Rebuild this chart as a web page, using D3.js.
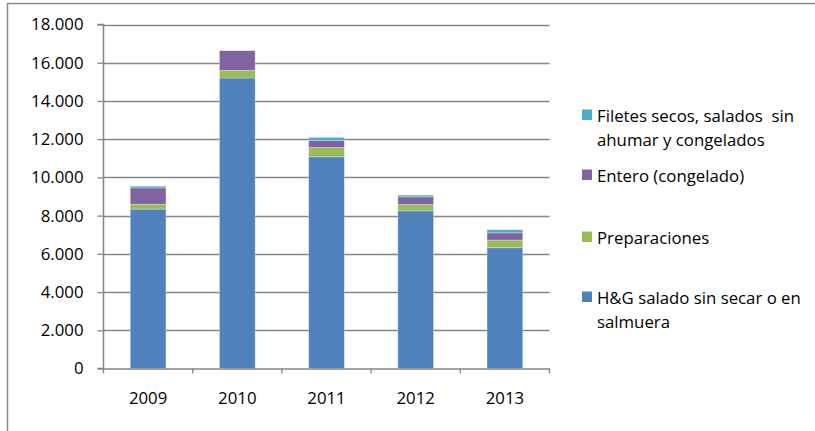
<!DOCTYPE html>
<html><head><meta charset="utf-8">
<script src="https://cdn.jsdelivr.net/npm/d3@7"></script>
<style>
body{margin:0;background:#fff;}
svg{display:block;font-family:"Open Sans",sans-serif;}
</style></head>
<body><svg id="c" width="815" height="431"></svg>
<script>
const years = ["2009","2010","2011","2012","2013"];
const hgSalado = [8340, 15200, 11075, 8250, 6320];
const preparaciones = [260, 400, 490, 330, 400];
const entero = [850, 1030, 365, 400, 380];
const filetes = [90, 0, 160, 90, 160];
const seriesNames = ["H&G salado sin secar o en salmuera","Preparaciones","Entero (congelado)","Filetes secos, salados  sin ahumar y congelados"];
const seriesColors = ["#4F81BD","#9BBB59","#8064A2","#4BACC6"];
const yTicks = [0,2000,4000,6000,8000,10000,12000,14000,16000,18000];
const legendLines = [["H&G salado sin secar o en","salmuera"],["Preparaciones"],["Entero (congelado)"],["Filetes secos, salados  sin","ahumar y congelados"]];

const keys = ["hg","prep","ent","fil"];
const rows = years.map((y,i)=>({year:y,hg:hgSalado[i],prep:preparaciones[i],ent:entero[i],fil:filetes[i]}));
const stacked = d3.stack().keys(keys)(rows);

const svg = d3.select("#c");
const L=103.5, R=549.5, T=24.5, B=368.5;
const FS = 16.8;
const x = d3.scaleBand().domain(years).range([L,R]).paddingInner(0.6).paddingOuter(0.3);
const y = d3.scaleLinear().domain([0,18000]).range([B,T]);
const loc = d3.formatLocale({decimal:",",thousands:".",grouping:[3],currency:["",""]});
const fmt = loc.format(",");

// outer border
svg.append("path").attr("d","M7.5,431 V3.5 H815").attr("fill","none").attr("stroke","#8a8a8a").attr("stroke-width",1.5);

// gridlines
svg.append("g").selectAll("line").data(yTicks.filter(d=>d>0)).join("line")
  .attr("x1",L).attr("x2",R).attr("y1",d=>Math.round(y(d))+0.5).attr("y2",d=>Math.round(y(d))+0.5)
  .attr("stroke","#868686").attr("stroke-width",1.3);

// bars
svg.append("g").selectAll("g").data(stacked).join("g")
  .attr("fill",(d,i)=>seriesColors[i])
  .selectAll("rect").data(d=>d).join("rect")
  .attr("x",d=>x(d.data.year)).attr("width",x.bandwidth())
  .attr("y",d=>y(d[1])).attr("height",d=>Math.max(0,y(d[0])-y(d[1])))
  .attr("stroke","rgba(255,255,255,0.35)").attr("stroke-width",0.8);

// y axis
const ya = svg.append("g").attr("transform",`translate(${L},0)`)
  .call(d3.axisLeft(y).tickValues(yTicks).tickFormat(fmt).tickSize(6).tickPadding(14));
ya.select(".domain").attr("stroke","#868686").attr("stroke-width",1.5).attr("d",`M-6,${T}H0V${B}H-6`);
ya.selectAll(".tick line").attr("stroke","#868686").attr("stroke-width",1.3);
ya.selectAll("text").attr("font-size",FS).attr("fill","#000").attr("font-family","Open Sans");

// x axis
const boundaries = years.map(d=>x(d)-x.step()*0.3).concat([R]);
const xa = svg.append("g").attr("transform",`translate(0,${B})`)
  .call(d3.axisBottom(x).tickSize(0).tickPadding(24));
xa.select(".domain").attr("stroke","#868686").attr("stroke-width",1.5);
xa.selectAll("text").attr("font-size",FS).attr("fill","#000").attr("font-family","Open Sans");
svg.append("g").selectAll("line").data(boundaries).join("line")
  .attr("x1",d=>d).attr("x2",d=>d).attr("y1",B).attr("y2",B+5)
  .attr("stroke","#868686").attr("stroke-width",1.3);

// legend
const legY = [297,237,175,115];
const lg = svg.append("g");
seriesNames.forEach((n,i)=>{
  const g = lg.append("g");
  g.append("rect").attr("x",582).attr("y",legY[i]-5.5).attr("width",10).attr("height",10.5).attr("fill",seriesColors[i]);
  const t = g.append("text").attr("x",597).attr("y",legY[i]+7).attr("font-size",FS).attr("fill","#000").style("white-space","pre");
  legendLines[i].forEach((ln,j)=>{
    t.append("tspan").attr("x",597).attr("dy",j===0?0:24).text(ln);
  });
});
</script></body></html>
